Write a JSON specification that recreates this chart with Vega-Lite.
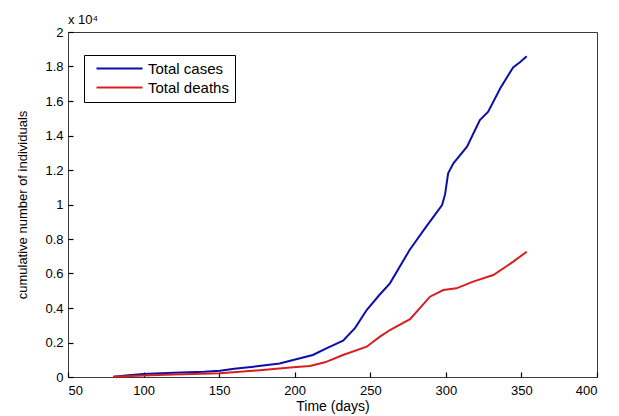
{
  "$schema": "https://vega.github.io/schema/vega-lite/v6.json",
  "width": 529,
  "height": 345,
  "autosize": {"type": "none"},
  "padding": {"left": 68, "top": 32, "right": 22, "bottom": 39},
  "background": "white",
  "config": {
    "font": "Liberation Sans",
    "view": {"stroke": "#3a3a3a", "strokeWidth": 1},
    "axis": {"grid": false, "domain": false, "labelFontSize": 13, "labelColor": "#000", "titleFontWeight": "normal", "titleFontSize": 13, "titleColor": "#000"}
  },
  "title": {"text": "x 10⁴", "anchor": "start", "frame": "group", "fontSize": 13, "fontWeight": "normal", "offset": -1, "color": "#000"},
  "data": {"values": [
    {"series": "Total cases", "day": 80, "n": 20},
    {"series": "Total cases", "day": 90, "n": 100},
    {"series": "Total cases", "day": 100, "n": 174},
    {"series": "Total cases", "day": 120, "n": 240},
    {"series": "Total cases", "day": 140, "n": 300},
    {"series": "Total cases", "day": 150.6, "n": 365},
    {"series": "Total cases", "day": 160, "n": 480},
    {"series": "Total cases", "day": 175, "n": 620},
    {"series": "Total cases", "day": 190, "n": 780},
    {"series": "Total cases", "day": 199, "n": 985},
    {"series": "Total cases", "day": 212, "n": 1275},
    {"series": "Total cases", "day": 222, "n": 1700},
    {"series": "Total cases", "day": 232, "n": 2100},
    {"series": "Total cases", "day": 240, "n": 2850},
    {"series": "Total cases", "day": 247.6, "n": 3884},
    {"series": "Total cases", "day": 256, "n": 4754},
    {"series": "Total cases", "day": 263, "n": 5430},
    {"series": "Total cases", "day": 276, "n": 7362},
    {"series": "Total cases", "day": 287, "n": 8715},
    {"series": "Total cases", "day": 297.5, "n": 9971},
    {"series": "Total cases", "day": 299.5, "n": 10600},
    {"series": "Total cases", "day": 301.5, "n": 11809},
    {"series": "Total cases", "day": 305, "n": 12388},
    {"series": "Total cases", "day": 314, "n": 13351},
    {"series": "Total cases", "day": 322.5, "n": 14899},
    {"series": "Total cases", "day": 328, "n": 15380},
    {"series": "Total cases", "day": 336, "n": 16736},
    {"series": "Total cases", "day": 344.5, "n": 17950},
    {"series": "Total cases", "day": 349, "n": 18250},
    {"series": "Total cases", "day": 353.5, "n": 18600},
    {"series": "Total deaths", "day": 80, "n": 10},
    {"series": "Total deaths", "day": 100, "n": 80},
    {"series": "Total deaths", "day": 120, "n": 150},
    {"series": "Total deaths", "day": 150.6, "n": 213},
    {"series": "Total deaths", "day": 175, "n": 380},
    {"series": "Total deaths", "day": 199, "n": 560},
    {"series": "Total deaths", "day": 210, "n": 638},
    {"series": "Total deaths", "day": 220, "n": 850},
    {"series": "Total deaths", "day": 232, "n": 1275},
    {"series": "Total deaths", "day": 247.6, "n": 1758},
    {"series": "Total deaths", "day": 256.4, "n": 2338},
    {"series": "Total deaths", "day": 263, "n": 2725},
    {"series": "Total deaths", "day": 276.3, "n": 3350},
    {"series": "Total deaths", "day": 289.5, "n": 4655},
    {"series": "Total deaths", "day": 298.3, "n": 5043},
    {"series": "Total deaths", "day": 307, "n": 5140},
    {"series": "Total deaths", "day": 318, "n": 5527},
    {"series": "Total deaths", "day": 331.4, "n": 5913},
    {"series": "Total deaths", "day": 344.6, "n": 6686},
    {"series": "Total deaths", "day": 353.5, "n": 7264}
  ]},
  "mark": {"type": "line", "strokeWidth": 2},
  "encoding": {
    "x": {"field": "day", "type": "quantitative", "scale": {"domain": [50, 400], "nice": false},
          "axis": {"orient": "bottom", "values": [50, 100, 150, 200, 250, 300, 350, 400], "ticks": true, "tickSize": 5, "tickWidth": 1.2, "tickColor": "#000", "offset": -5, "labelPadding": 7, "title": "Time (days)", "titleFontSize": 14, "titlePadding": 2}},
    "y": {"field": "n", "type": "quantitative", "scale": {"domain": [0, 20000], "nice": false},
          "axis": {"orient": "left", "values": [0, 2000, 4000, 6000, 8000, 10000, 12000, 14000, 16000, 18000, 20000], "ticks": true, "tickSize": 5, "tickWidth": 1.2, "tickColor": "#000", "offset": -5, "labelExpr": "format(datum.value/10000, '~g')", "labelPadding": 5, "title": "cumulative number of individuals", "titlePadding": 15}},
    "color": {"field": "series", "type": "nominal",
              "scale": {"domain": ["Total cases", "Total deaths"], "range": ["#0d0dab", "#d81e1e"]},
              "legend": {"orient": "none", "legendX": 16, "legendY": 23, "title": null, "strokeColor": "#000", "fillColor": "white", "padding": 6, "labelFontSize": 15, "labelColor": "#000", "symbolType": "M-0.2,0H9", "symbolStrokeWidth": 2, "symbolSize": 100, "rowPadding": 3, "labelOffset": 43}}
  }
}
